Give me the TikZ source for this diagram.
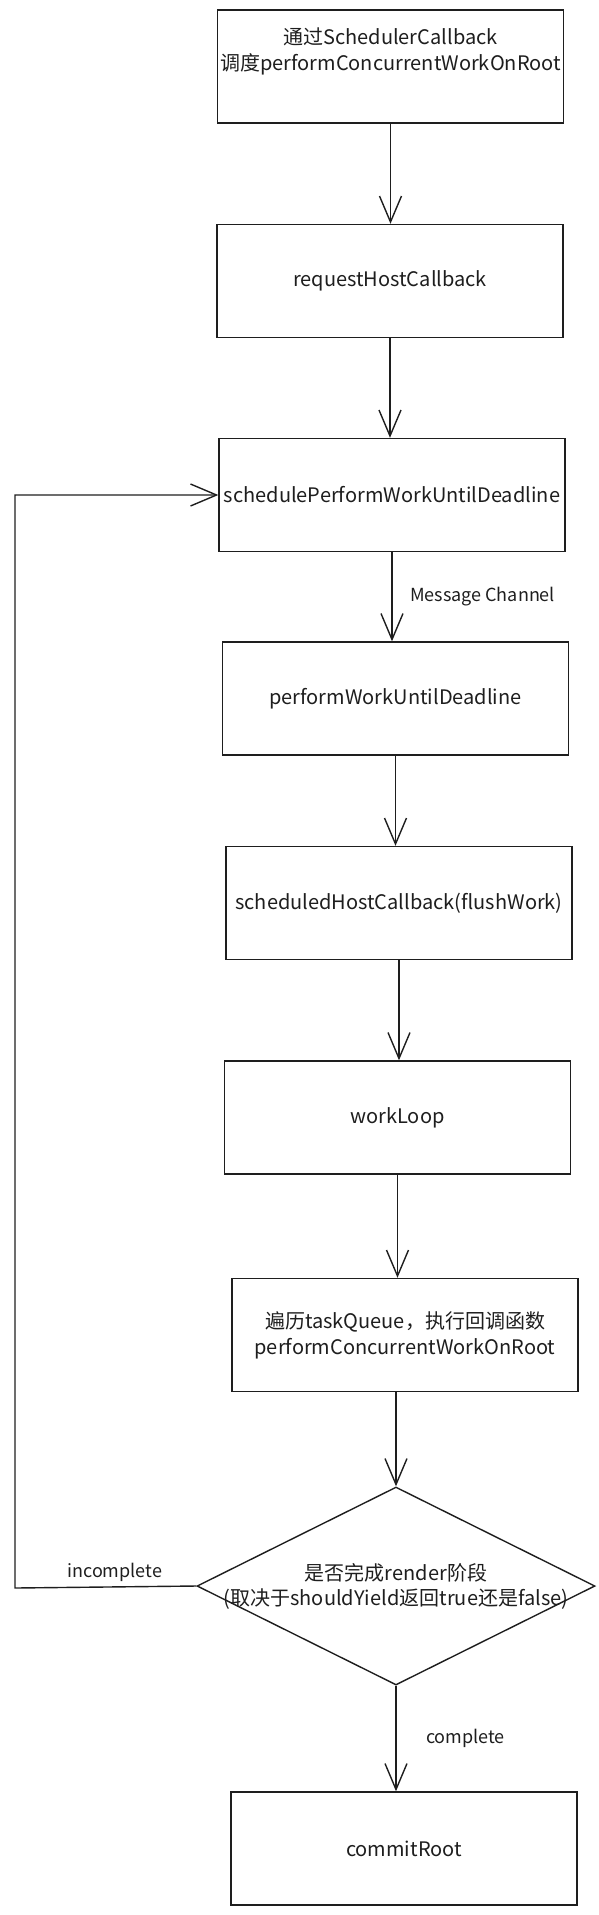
\documentclass[tikz,border=0pt]{standalone}
\usepackage{fontspec}
\setmainfont{Noto Sans CJK SC}
\usetikzlibrary{arrows.meta,shapes.geometric}
\definecolor{ink}{RGB}{30, 30, 30}
\tikzset{
    stage/.style  = {draw=ink, line width=1.4pt, minimum width=346pt, minimum height=113pt,
                     inner sep=0pt, align=center, text=ink, font=\fontsize{20}{26}\selectfont},
    decide/.style = {draw=ink, line width=1.4pt, diamond, minimum width=398pt, minimum height=198pt,
                     inner sep=0pt},
    flow/.style   = {draw=ink, line width=1.4pt, -{Straight Barb[length=26pt,width=22pt]}},
    tag/.style    = {text=ink, font=\fontsize{18}{22}\selectfont}
}
\begin{document}
\begin{tikzpicture}[x=1pt, y=-1pt]
            \useasboundingbox (0,0) rectangle (599,1915);
            \node[stage]  (sched)  at (390.5,  66.5) {通过SchedulerCallback\\调度performConcurrentWorkOnRoot\\\strut};
            \node[stage]  (reqcb)  at (390.0, 281.0) {requestHostCallback};
            \node[stage]  (spwud)  at (392.0, 495.0) {schedulePerformWorkUntilDeadline};
            \node[stage]  (pwud)   at (395.5, 698.5) {performWorkUntilDeadline};
            \node[stage]  (shcb)   at (399.0, 903.0) {scheduledHostCallback(flushWork)};
            \node[stage]  (wloop)  at (397.5,1117.5) {workLoop};
            \node[stage]  (tqueue) at (405.0,1335.0) {遍历taskQueue，执行回调函数\\performConcurrentWorkOnRoot};
            \node[decide] (render) at (396.0,1586.0) {};
            \node[stage, draw=none, minimum width=0pt, minimum height=0pt, font=\fontsize{20}{25}\selectfont]
                          (rendertxt) at (render) {是否完成render阶段\\(取决于shouldYield返回true还是false)};
            \node[stage]  (commit) at (404.0,1848.5) {commitRoot};
            \coordinate   (back)   at ( 15.0,1588.0);

            \draw[flow] (sched.south)  -- (sched.south  |- reqcb.north);
            \draw[flow] (reqcb.south)  -- (reqcb.south  |- spwud.north);
            \draw[flow] (spwud.south)  -- (spwud.south  |- pwud.north)
                 node[tag, midway, right=14pt] (msgch) {Message Channel};
            \draw[flow] (pwud.south)   -- (pwud.south   |- shcb.north);
            \draw[flow] (shcb.south)   -- (shcb.south   |- wloop.north);
            \draw[flow] (wloop.south)  -- (wloop.south  |- tqueue.north);
            \draw[flow] (tqueue.south -| render.north) -- (render.north);
            \draw[flow] (render.south) -- (render.south |- commit.north)
                 node[tag, midway, right=26pt] (donelbl) {complete};
            \draw[flow] (render.west)  -- (back) |- (spwud.west);
            \path (render.west) -- (back) node[tag, pos=0.45, above=2pt] (undone) {incomplete};
\end{tikzpicture}
\end{document}
